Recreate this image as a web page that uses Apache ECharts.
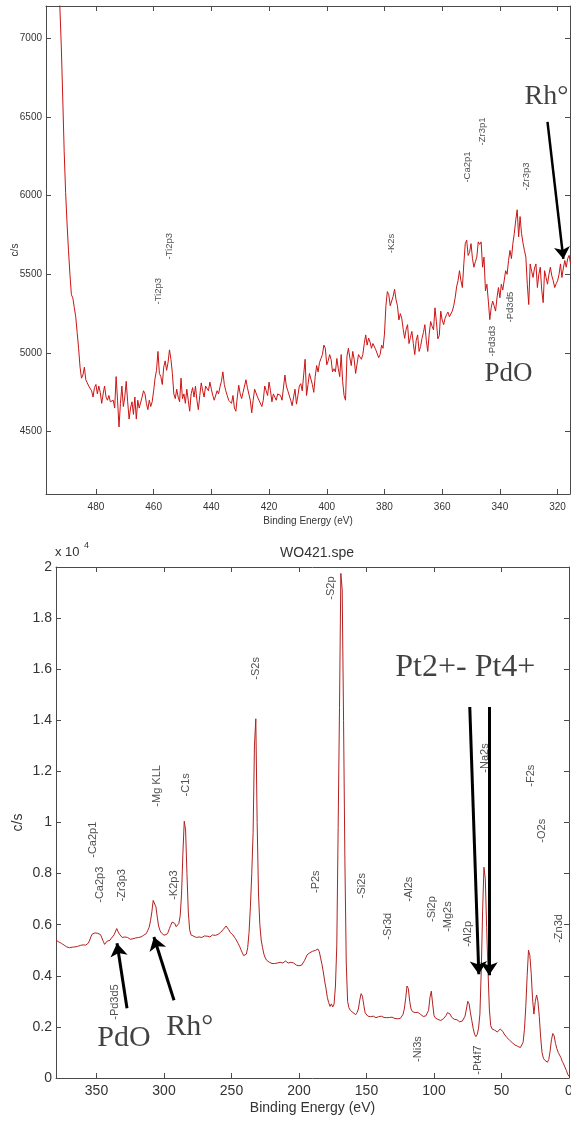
<!DOCTYPE html>
<html><head><meta charset="utf-8">
<script src="https://cdn.jsdelivr.net/npm/echarts@6/dist/echarts.min.js"></script>
<style>html,body{margin:0;padding:0;background:#fff}#c{width:571px;height:1122px}</style>
</head><body><div id="c"></div>
<script>
// ---------- DATA ----------
// Top spectrum: energies from topStart downward in steps of topStep (eV), counts in c/s
const topStart = 494, topStep = 0.5;
const topCounts = [
7600,7450,7320,7200,6950,6620,6280,6020,5820,5650,
5500,5370,5350,5290,5230,5130,5030,4910,4840,4860,
4910,4830,4810,4790,4800,4760,4720,4780,4800,4740,
4790,4750,4680,4740,4790,4720,4700,4730,4690,4680,
4700,4650,4850,4700,4530,4680,4790,4660,4720,4820,
4690,4580,4650,4690,4610,4720,4580,4700,4650,4640,
4720,4760,4740,4680,4640,4700,4660,4690,4760,4840,
4890,5010,4870,4850,4800,4910,4950,4890,4940,5020,
4960,4870,4740,4710,4770,4720,4690,4840,4710,4740,
4680,4770,4700,4630,4740,4780,4720,4790,4700,4640,
4730,4810,4760,4720,4790,4800,4760,4815,4770,4730,
4700,4710,4760,4740,4785,4820,4880,4800,4760,4730,
4700,4710,4680,4730,4650,4630,4720,4795,4740,4710,
4750,4760,4830,4780,4770,4700,4620,4700,4770,4760,
4720,4700,4690,4660,4700,4790,4760,4730,4815,4760,
4690,4740,4720,4700,4740,4750,4730,4700,4690,4860,
4790,4760,4750,4700,4665,4720,4770,4675,4730,4790,
4805,4760,4860,4960,4730,4800,4870,4880,4800,4750,
4850,4920,4880,4940,4965,4990,5050,5030,4925,4950,
4990,4960,4880,4900,4880,4965,4900,4850,4990,4820,
4730,4700,4980,5030,4970,4920,5010,4960,4870,4860,
4990,5000,4960,4990,5060,5115,5050,5095,5070,5030,
5060,5070,5020,5010,4970,4990,5050,5030,5120,5300,
5390,5370,5300,5310,5360,5405,5340,5300,5210,5250,
5220,5150,5093,5150,5180,5060,5100,5137,5060,4990,
5080,5115,5010,5040,5093,5130,5180,5080,5010,5120,
5200,5170,5147,5287,5200,5090,5110,5266,5210,5180,
5220,5244,5260,5230,5222,5266,5300,5351,5420,5460,
5523,5460,5416,5566,5695,5717,5620,5640,5695,5600,
5545,5580,5609,5706,5690,5706,5545,5609,5395,5437,
5330,5212,5290,5330,5300,5266,5351,5416,5351,5437,
5400,5395,5523,5500,5588,5652,5600,5695,5760,5846,
5910,5738,5867,5760,5700,5652,5609,5437,5308,5566,
5520,5480,5540,5566,5416,5500,5545,5400,5320,5523,
5480,5437,5500,5545,5490,5459,5416,5440,5459,5500,
5566,5480,5540,5588,5545,5600,5620,5566
];
const topXTicks = [320,340,360,380,400,420,440,460,480];
const topYTicks = [4500,5000,5500,6000,6500,7000];

// Bottom spectrum (WO421.spe): energies from bottomStart downward in steps of bottomStep
const bottomStart = 380, bottomStep = 1;
const bottomCounts = [
5390,5350,5330,5320,5270,5240,5200,5160,5130,5120,
5100,5080,5120,5090,5130,5110,5150,5170,5190,5160,
5210,5230,5200,5260,5280,5400,5550,5640,5610,5680,
5620,5660,5590,5610,5480,5350,5230,5300,5360,5420,
5390,5470,5520,5600,5550,5850,5720,5630,5580,5500,
5470,5520,5460,5500,5480,5430,5470,5450,5500,5480,
5450,5500,5460,5520,5550,5590,5630,5660,5780,5900,
6150,6500,6950,7020,6700,6300,5950,5780,5680,5620,
5590,5560,5620,5700,5850,5980,6100,6170,6050,5920,
5880,6050,6350,7200,8800,10050,9700,8000,6500,5800,
5600,5580,5550,5520,5500,5540,5520,5560,5500,5530,
5560,5510,5550,5580,5520,5570,5600,5540,5580,5560,
5620,5680,5700,5760,5820,5870,5950,5900,5800,5700,
5640,5600,5530,5450,5380,5260,5150,5020,4900,4790,
4760,4850,5100,5700,6700,8000,9600,13000,14060,10000,
7200,6000,5400,5100,4850,4700,4610,4560,4530,4500,
4480,4520,4480,4550,4500,4480,4530,4560,4500,4540,
4580,4520,4500,4560,4530,4480,4500,4530,4420,4460,
4390,4360,4420,4480,4590,4700,4820,4870,4900,4880,
4960,4900,4990,5010,5050,4950,4700,4450,4150,3800,
3500,3150,2950,2800,2900,2780,2900,3600,5200,9800,
14500,19750,19100,14000,8500,4500,3000,2750,2650,2620,
2560,2520,2480,2560,2700,3050,3300,3200,2850,2550,
2480,2420,2380,2400,2370,2420,2380,2360,2410,2400,
2380,2420,2390,2370,2400,2360,2390,2370,2340,2380,
2360,2330,2360,2320,2350,2330,2380,2480,2700,3100,
3600,3500,3000,2700,2600,2580,2560,2620,2570,2530,
2490,2450,2410,2380,2430,2480,2650,3150,3400,2900,
2450,2350,2320,2290,2270,2250,2280,2320,2380,2450,
2560,2620,2500,2380,2330,2300,2320,2280,2250,2200,
2180,2230,2300,2420,2700,3000,2900,2550,2250,1950,
1720,1620,1700,1950,2500,4200,6500,8250,7800,5900,
4200,2700,2050,1920,1880,1870,1840,1800,1850,1920,
1900,1820,1720,1650,1580,1540,1480,1420,1380,1330,
1290,1270,1240,1210,1190,1200,1400,1900,2800,4000,
5000,4800,4100,3100,2500,3000,3250,3000,2400,1600,
1000,780,700,650,620,720,1050,1500,1740,1650,
1350,1150,1000,980,800,650,550,480,300,150,
60
];
const bottomXTicks = [0,50,100,150,200,250,300,350];
const bottomYTicks = [0,2000,4000,6000,8000,10000,12000,14000,16000,18000,20000];

// Peak identification labels: [name, energy (eV), c/s at label start]
const topPeakLabels = [
  ['Ti2p3',458.2,5305],['Ti2p3',454.4,5591],['K2s',377.5,5631],['Ca2p1',351.0,6080],
  ['Zr3p1',345.8,6316],['Zr3p3',330.7,6030],['Pd3d5',336.2,5191],['Pd3d3',342.3,4975]
];
const bottomPeakLabels = [
  ['Ca2p1',352.4,8600],['Ca2p3',347.4,6840],['Zr3p3',331.1,6890],['K2p3',291.9,6955],
  ['Mg KLL',305.2,10600],['C1s',283.0,11000],['Pd3d5',336.3,2260],['S2s',231.4,15570],
  ['S2p',175.9,18700],['P2s',187.0,7220],['Si2s',153.2,7020],['Sr3d',134.0,5390],
  ['Al2s',118.4,6880],['Si2p',101.4,6090],['Mg2s',89.1,5700],['Al2p',74.8,5120],
  ['Ni3s',111.8,610],['Pt4f7',67.4,110],['Na2s',61.7,11930],['F2s',27.8,11380],
  ['O2s',19.7,9190],['Zn3d',6.9,5270]
];
// Hand annotations: [text, energy at left edge, c/s at middle]
const topNotes = [['Rh°',331.3,6627],['PdO',345.2,4867]];
const bottomNotes = [['PdO',349.1,1554],['Rh°',298.0,1984],['Pt2+- Pt4+',128.3,16036]];
// Arrows: [eV from, c/s from, eV to, c/s to]
const topArrows = [[323.5,6469,318.0,5598]];
const bottomArrows = [[327.4,2728,334.8,5272],[292.6,3041,307.5,5519],[73.5,14521,66.8,4059],[59.2,14521,59.2,4020]];

// ---------- CHART ----------
const chart = echarts.init(document.getElementById('c'));
const SANS = 'Liberation Sans';
const SERIF = 'Liberation Serif';
const AX = '#4a4a4a', TXT = '#333';

function xAx(grid, min, max, ticks, main, fs, margin, nameGap){
  return {
    type:'value', gridIndex:grid, inverse:true, min:min, max:max,
    position: main ? 'bottom' : 'top',
    axisLine:{show:true, onZero:false, lineStyle:{color:AX, width:1}},
    axisTick:{show:true, inside:true, length:5, customValues:ticks, lineStyle:{color:AX}},
    axisLabel:{show:main, customValues:ticks, fontFamily:SANS, fontSize:fs, color:TXT, margin:margin,
      formatter:v=>String(v)},
    splitLine:{show:false},
    name: main ? 'Binding Energy (eV)' : '', nameLocation:'middle', nameGap:nameGap,
    nameMoveOverlap:false,
    nameTextStyle:{fontFamily:SANS, fontSize:fs, color:TXT}
  };
}
function yAx(grid, min, max, ticks, main, fs, fmt, nameGap){
  return {
    type:'value', gridIndex:grid, min:min, max:max,
    position: main ? 'left' : 'right',
    axisLine:{show:true, onZero:false, lineStyle:{color:AX, width:1}},
    axisTick:{show:true, inside:true, length:5, customValues:ticks, lineStyle:{color:AX}},
    axisLabel:{show:main, customValues:ticks, fontFamily:SANS, fontSize:fs, color:TXT, margin:4, formatter:fmt},
    splitLine:{show:false},
    name: main ? 'c/s' : '', nameLocation:'middle', nameGap:nameGap, nameRotate:90,
    nameMoveOverlap:false,
    nameTextStyle:{fontFamily:SANS, fontSize:fs, color:TXT}
  };
}
const fmtTop = v => String(v);
const fmtBottom = v => String(+(v/10000).toFixed(1));

function peakSeries(xi, yi, list, fs){
  return {
    type:'scatter', xAxisIndex:xi, yAxisIndex:yi, silent:true, animation:false,
    symbol:'circle', symbolSize:1, itemStyle:{color:'rgba(0,0,0,0)'},
    data:list.map(d=>[d[1], d[2], d[0]]),
    label:{show:true, position:[0,0], rotate:90, align:'left', verticalAlign:'middle',
      fontFamily:SANS, fontSize:fs, color:'#222', formatter:p=>'-'+p.data[2]}
  };
}
function noteSeries(xi, yi, list, sizes, arrows, aw, asz){
  return {
    type:'scatter', xAxisIndex:xi, yAxisIndex:yi, silent:true, animation:false,
    symbol:'circle', symbolSize:1, itemStyle:{color:'rgba(0,0,0,0)'},
    data:list.map((d,i)=>({value:[d[1], d[2]], name:d[0],
      label:{fontSize:sizes[i]}})),
    label:{show:true, position:[0,0], align:'left', verticalAlign:'middle',
      fontFamily:SERIF, color:'#111', formatter:p=>p.name},
    markLine:{silent:true, animation:false, symbol:['none','arrow'], symbolSize:asz,
      lineStyle:{color:'#000', width:aw, type:'solid'}, label:{show:false},
      emphasis:{disabled:true},
      data:arrows.map(a=>[{coord:[a[0],a[1]], symbol:'none'},{coord:[a[2],a[3]], symbol:'arrow', symbolSize:asz}])}
  };
}

chart.setOption({
  animation:false,
  backgroundColor:'#fff',
  title:{text:'WO421.spe', left:312, top:541, textAlign:'center',
    textStyle:{fontFamily:SANS, fontSize:14, fontWeight:'normal', color:TXT}},
  grid:[
    {left:46, top:6, width:524, height:488, containLabel:false, outerBoundsMode:'none'},
    {left:56, top:567, width:513, height:511, containLabel:false, outerBoundsMode:'none'}
  ],
  xAxis:[
    xAx(0, 315.7, 497.3, topXTicks, true, 10, 8, 22),
    xAx(0, 315.7, 497.3, topXTicks, false, 10, 8, 22),
    xAx(1, 0, 380, bottomXTicks, true, 14, 6, 23),
    xAx(1, 0, 380, bottomXTicks, false, 14, 6, 23)
  ],
  yAxis:[
    yAx(0, 4104, 7205, topYTicks, true, 10, fmtTop, 26),
    yAx(0, 4104, 7205, topYTicks, false, 10, fmtTop, 26),
    yAx(1, 0, 20000, bottomYTicks, true, 14, fmtBottom, 31),
    yAx(1, 0, 20000, bottomYTicks, false, 14, fmtBottom, 31)
  ],
  graphic:[
    {type:'text', left:55, top:546, style:{text:'x 10', font:'13px "Liberation Sans"', fill:TXT}},
    {type:'text', left:84, top:541, style:{text:'4', font:'9px "Liberation Sans"', fill:TXT}}
  ],
  series:[
    {type:'line', xAxisIndex:0, yAxisIndex:0, silent:true, showSymbol:false, clip:true,
      data:topCounts.map((v,i)=>[topStart - i*topStep, v]),
      lineStyle:{color:'#cc1414', width:1}},
    {type:'line', xAxisIndex:2, yAxisIndex:2, silent:true, showSymbol:false, clip:true,
      data:bottomCounts.map((v,i)=>[bottomStart - i*bottomStep, v]),
      lineStyle:{color:'#b3201f', width:1}},
    peakSeries(0, 0, topPeakLabels, 9.5),
    peakSeries(2, 2, bottomPeakLabels, 11),
    noteSeries(0, 0, topNotes, [28,27], topArrows, 2.5, 12),
    noteSeries(2, 2, bottomNotes, [30,30,32], bottomArrows, 3, 13)
  ]
});
</script>
</body></html>
